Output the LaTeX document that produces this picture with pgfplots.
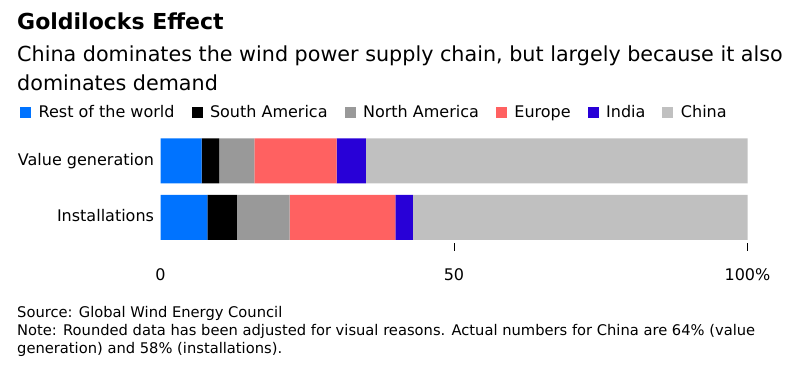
\documentclass[border=0pt]{standalone}
\usepackage{pgfplots}
\pgfplotsset{compat=1.18}
\usepackage{fontspec}
\setmainfont{DejaVu Sans}
\definecolor{cRow}{RGB}{0,115,255}
\definecolor{cSA}{RGB}{0,0,0}
\definecolor{cNA}{RGB}{153,153,153}
\definecolor{cEU}{RGB}{255,97,97}
\definecolor{cIN}{RGB}{40,0,215}
\definecolor{cCN}{RGB}{192,192,192}
\begin{document}
\begin{tikzpicture}
\path[use as bounding box] (0bp,0bp) rectangle (794bp,-380bp);
\node[anchor=base west, inner sep=0pt, font=\fontsize{22bp}{26bp}\selectfont\bfseries] at (17bp,-29.5bp) {Goldilocks Effect};
\node[anchor=base west, inner sep=0pt, font=\fontsize{20.7bp}{25bp}\selectfont] at (17bp,-61bp) {China dominates the wind power supply chain, but largely because it also};
\node[anchor=base west, inner sep=0pt, font=\fontsize{20.7bp}{25bp}\selectfont] at (17bp,-90bp) {dominates demand};
\node[anchor=base west, inner sep=0pt, font=\fontsize{14.7bp}{17bp}\selectfont] at (17bp,-317.7bp) {Source: Global Wind Energy Council};
\node[anchor=base west, inner sep=0pt, font=\fontsize{14.7bp}{17bp}\selectfont] at (17bp,-335.7bp) {Note: Rounded data has been adjusted for visual reasons. Actual numbers for China are 64\% (value};
\node[anchor=base west, inner sep=0pt, font=\fontsize{14.7bp}{17bp}\selectfont] at (17bp,-353bp) {generation) and 58\% (installations).};
\begin{axis}[
  at={(160.5bp,-135.6bp)}, anchor=north west,
  scale only axis, width=587bp, height=107.05bp,
  xbar stacked, bar width=45bp,
  xmin=0, xmax=100, ymin=-0.444, ymax=1.444,
  axis line style={draw=none},
  ytick={0,1}, yticklabels={Installations,Value generation},
  ytick style={draw=none},
  xtick={50,100}, xticklabels={50,100\%},
  extra x ticks={0}, extra x tick labels={0},
  extra x tick style={xtick style={draw=none}},
  tick align=outside, xtick pos=bottom, ytick pos=left,
  major tick length=8bp,
  xtick style={black, line width=0.8bp},
  ticklabel style={font=\fontsize{16bp}{19bp}\selectfont},
  xticklabel style={anchor=base, yshift=-30bp},
  yticklabel style={anchor=base east, yshift=-4.5bp, xshift=5bp},
  /pgf/number format/assume math mode=true,
  legend columns=6,
  legend style={at={(-0.2394,1.2163)}, anchor=west, draw=none, inner sep=0pt,
    nodes={inner sep=0pt},
    font=\fontsize{16bp}{19bp}\selectfont,
    /tikz/every even column/.append style={column sep=17bp}},
  legend cell align=left,
  legend image code/.code={\fill[#1] (0bp,-5.5bp) rectangle (11bp,5.5bp); \path (18.5bp,0bp);},
]
\addplot[fill=cRow, draw=none] coordinates {(8,0) (7,1)};
\addplot[fill=cSA, draw=none] coordinates {(5,0) (3,1)};
\addplot[fill=cNA, draw=none] coordinates {(9,0) (6,1)};
\addplot[fill=cEU, draw=none] coordinates {(18,0) (14,1)};
\addplot[fill=cIN, draw=none] coordinates {(3,0) (5,1)};
\addplot[fill=cCN, draw=none] coordinates {(57,0) (65,1)};
\legend{Rest of the world, South America, North America, Europe, India, China}
\end{axis}
\end{tikzpicture}
\end{document}
